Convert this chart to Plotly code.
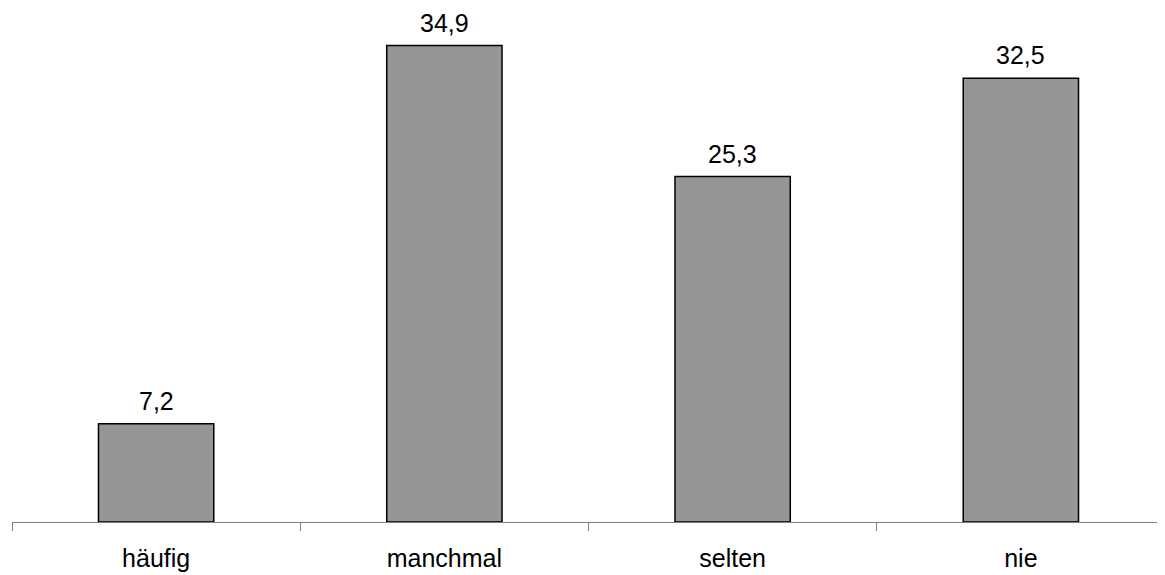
import plotly.graph_objects as go

categories = ["häufig", "manchmal", "selten", "nie"]
values = [7.2, 34.9, 25.3, 32.5]
value_labels = ["7,2", "34,9", "25,3", "32,5"]

FONT = "Liberation Sans, Arial, sans-serif"

fig = go.Figure(go.Bar(
    x=categories, y=values,
    marker=dict(color="#969696", line=dict(color="#000000", width=1.5)),
    hoverinfo="x+y",
))

for c, v, lab in zip(categories, values, value_labels):
    fig.add_annotation(
        x=c, y=v, text=lab, showarrow=False,
        xanchor="center", yanchor="bottom", yshift=7,
        font=dict(family=FONT, size=25, color="#000000"),
    )

fig.update_layout(
    width=1165, height=575,
    margin=dict(l=4, r=8, t=2, b=60.5),
    paper_bgcolor="white", plot_bgcolor="white",
    separators=",.",
    bargap=0.6,
    showlegend=False,
    font=dict(family=FONT, size=25, color="#000000"),
)
fig.update_xaxes(
    showline=True, linecolor="#808080", linewidth=1,
    ticks="outside", tickson="boundaries", ticklen=8, tickcolor="#808080",
    ticklabelstandoff=14,
    showgrid=False, zeroline=False,
    tickfont=dict(family=FONT, size=25, color="#000000"),
)
fig.update_yaxes(range=[0, 37.5], visible=False, showgrid=False, zeroline=False)

fig.write_html("out.html")
